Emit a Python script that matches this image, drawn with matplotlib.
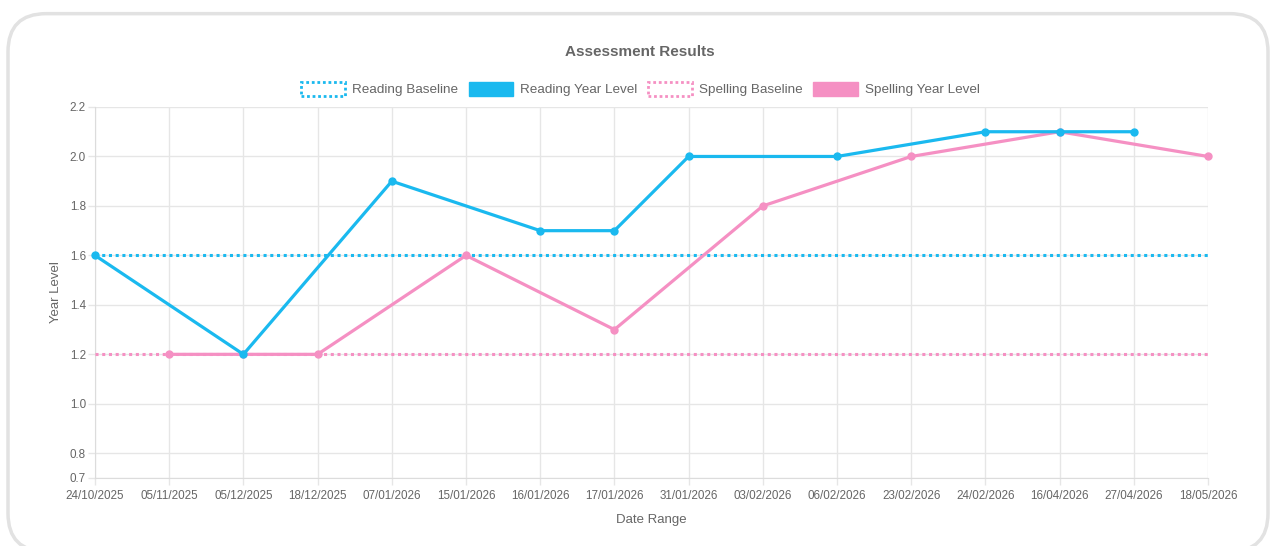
import matplotlib.pyplot as plt
import numpy as np
from matplotlib.patches import FancyBboxPatch, Patch

plt.rcParams["font.family"] = ["Liberation Sans", "DejaVu Sans"]

dates = ["24/10/2025", "05/11/2025", "05/12/2025", "18/12/2025", "07/01/2026",
         "15/01/2026", "16/01/2026", "17/01/2026", "31/01/2026", "03/02/2026",
         "06/02/2026", "23/02/2026", "24/02/2026", "16/04/2026", "27/04/2026",
         "18/05/2026"]
reading_level = [1.6, None, 1.2, None, 1.9, None, 1.7, 1.7, 2.0, None,
                 2.0, None, 2.1, 2.1, 2.1, None]
spelling_level = [None, 1.2, 1.2, 1.2, None, 1.6, None, 1.3, None, 1.8,
                  None, 2.0, None, 2.1, None, 2.0]
reading_baseline = 1.6
spelling_baseline = 1.2
yticks = [0.7, 0.8, 1.0, 1.2, 1.4, 1.6, 1.8, 2.0, 2.2]

blue = "#1ab9ef"
pink = "#f590c3"
text_c = "#666666"
grid_c = "#e6e6e6"

fig = plt.figure(figsize=(12.73, 5.46), dpi=100)
fig.patches.append(FancyBboxPatch((8 / 1273, -0.01), 1260 / 1273, 0.985,
                                  boxstyle="round,pad=0,rounding_size=0.03",
                                  transform=fig.transFigure, facecolor="white",
                                  edgecolor="#e2e2e2", linewidth=2.5,
                                  mutation_aspect=1273 / 546, zorder=-1))
ax = fig.add_axes([95 / 1273, 1 - 478 / 546, (1208 - 95) / 1273, (478 - 107) / 546])
ax.set_facecolor("none")

x = np.arange(len(dates))


def series(vals):
    arr = np.array([np.nan if v is None else v for v in vals], dtype=float)
    m = ~np.isnan(arr)
    return x[m], arr[m]


ax.plot(x, [reading_baseline] * len(x), color=blue, lw=2.2, ls=(0, (1, 1.2)), zorder=3)
ax.plot(x, [spelling_baseline] * len(x), color=pink, lw=2.2, ls=(0, (1, 1.2)), zorder=3)
rx, ry = series(reading_level)
ax.plot(rx, ry, color=blue, lw=2.3, marker="o", ms=5, zorder=5, clip_on=False)
sx, sy = series(spelling_level)
ax.plot(sx, sy, color=pink, lw=2.3, marker="o", ms=5, zorder=4, clip_on=False)

ax.set_xlim(0, len(dates) - 1)
ax.set_ylim(0.7, 2.2)
ax.set_xticks(x)
ax.set_xticklabels(dates)
ax.set_yticks(yticks)
ax.set_yticklabels([f"{v:.1f}" for v in yticks])
ax.grid(True, color=grid_c, lw=1)
ax.set_axisbelow(True)
for s in ax.spines.values():
    s.set_visible(False)
ax.spines["left"].set_visible(True)
ax.spines["bottom"].set_visible(True)
ax.spines["left"].set_color("#dcdcdc")
ax.spines["bottom"].set_color("#dcdcdc")
ax.tick_params(axis="both", colors=grid_c, length=5, width=1, labelcolor=text_c,
               labelsize=8.4, pad=1.5)
ax.tick_params(axis="x", pad=3.5)
ax.set_xlabel("Date Range", color=text_c, fontsize=9.5, labelpad=9)
ax.set_ylabel("Year Level", color=text_c, fontsize=9.5, labelpad=6)

fig.text(640 / 1273, 1 - 52 / 546, "Assessment Results", ha="center", va="center",
         fontsize=11, fontweight="bold", color=text_c)

handles = [
    Patch(facecolor="white", edgecolor=blue, linestyle=(0, (1, 1)), linewidth=2),
    Patch(facecolor=blue, edgecolor=blue),
    Patch(facecolor="white", edgecolor=pink, linestyle=(0, (1, 1)), linewidth=2),
    Patch(facecolor=pink, edgecolor=pink),
]
labels = ["Reading Baseline", "Reading Year Level", "Spelling Baseline", "Spelling Year Level"]
fig.legend(handles, labels, loc="center", bbox_to_anchor=(640 / 1273, 1 - 89 / 546),
           ncol=4, frameon=False, fontsize=9.7, labelcolor=text_c,
           handlelength=3.3, handleheight=1.2, handletextpad=0.5, columnspacing=0.8)

fig.savefig("out.png", dpi=100)
